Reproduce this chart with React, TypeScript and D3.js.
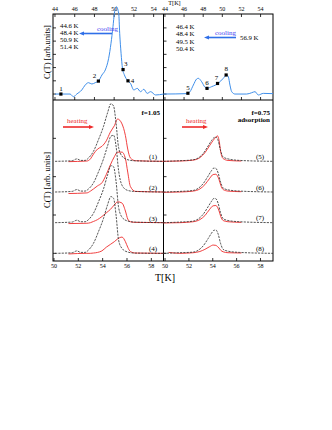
import React from "react";
import * as d3 from "d3";

const FONT = "'Liberation Serif','Times New Roman',Times,serif";

// ---------- data: top panels (cooling) ----------
const topTicks = [44, 46, 48, 50, 52, 54];
const bottomTicks = [50, 52, 54, 56, 58];

const topLeftT = [44.0, 45.53, 45.87, 46.21, 46.72, 47.06, 47.4, 47.74, 48.08, 48.42, 48.76, 49.1, 49.44, 49.68, 49.88, 50.02, 50.22, 50.46, 50.56, 50.7, 50.84, 51.04, 51.38, 51.65, 51.99, 52.34, 52.67, 53.01, 53.35, 53.69, 54.2, 55.0];
const topLeftC = [0, 0, -0.2, 0, 0.31, 0.68, 0.86, 0.76, 0.86, 0.99, 1.44, 1.82, 2.7, 3.84, 5.09, 6.1, 6.6, 6.1, 4.59, 3.08, 1.95, 1.44, 1.01, 0.81, 0.31, 0.43, 0.18, 0.36, 0.05, 0.18, -0.07, 0];
const leftPointT = [44.6, 48.4, 50.9, 51.4];
const leftPointC = [0, 0.98, 1.85, 1.0];
const leftPointLabels = ["1", "2", "3", "4"];
const leftTempTexts = ["44.6 K", "48.4 K", "50.9 K", "51.4 K"];

const topRightT = [43.85, 46.28, 46.62, 46.97, 47.32, 47.49, 47.84, 48.19, 48.37, 48.89, 49.58, 50.1, 50.46, 50.63, 50.8, 50.98, 51.33, 52.55, 53.07, 53.42, 53.76, 54.29, 55.3];
const topRightC = [0, 0.03, 0.18, 0.68, 1.14, 1.19, 0.93, 0.51, 0.43, 0.56, 0.81, 1.19, 1.44, 1.31, 0.68, 0.18, 0, 0, 0.1, 0.18, -0.07, 0.05, 0.03];
const rightPointT = [46.4, 48.4, 49.5, 50.4];
const rightPointC = [0.06, 0.43, 0.8, 1.44];
const rightPointLabels = ["5", "6", "7", "8"];
const rightTempTexts = ["46.4 K", "48.4 K", "49.5 K", "50.4 K"];

// ---------- data: bottom-left (f=1.05, heating) ----------
const blackLT = [50.09, 51.5, 51.88, 52.2, 52.56, 52.84, 53.25, 53.66, 54.07, 54.4, 54.68, 54.9, 55.1, 55.31, 55.59, 56.0, 56.55, 59.0];
const black1 = [0, 0.02, 0.08, 0.03, 0.03, 0.11, 0.33, 0.71, 1.14, 1.58, 1.88, 1.8, 1.25, 0.45, 0.17, 0.06, 0.02, 0];
const black2 = [0, 0.02, 0.08, 0.03, 0.03, 0.1, 0.3, 0.66, 1.08, 1.5, 1.82, 1.85, 1.5, 0.7, 0.22, 0.06, 0.02, 0];
const black3 = [0, 0.02, 0.08, 0.03, 0.03, 0.1, 0.31, 0.68, 1.1, 1.55, 1.86, 1.82, 1.35, 0.5, 0.18, 0.06, 0.02, 0];
const black4 = [0, 0.02, 0.08, 0.03, 0.03, 0.11, 0.33, 0.71, 1.14, 1.58, 1.85, 1.79, 1.25, 0.43, 0.16, 0.05, 0.01, 0];

const redLT = [51.19, 52.7, 53.0, 53.25, 53.58, 53.94, 54.3, 54.63, 54.96, 55.23, 55.59, 55.87, 56.06, 56.28, 56.69, 59.0];
const red1 = [-0.01, 0.01, 0.08, 0.24, 0.4, 0.49, 0.67, 0.95, 1.16, 1.38, 1.22, 0.84, 0.4, 0.11, 0.02, 0];
const red2 = [-0.05, -0.03, 0.03, 0.1, 0.2, 0.3, 0.57, 0.88, 1.15, 1.3, 1.3, 1.09, 0.65, 0.18, 0.02, 0];
const red3 = [-0.03, -0.02, 0.0, 0.04, 0.1, 0.2, 0.32, 0.43, 0.58, 0.68, 0.64, 0.38, 0.12, 0.03, 0.01, 0];
const red4 = [-0.02, 0.0, 0.0, 0.01, 0.03, 0.08, 0.2, 0.29, 0.38, 0.47, 0.53, 0.38, 0.2, 0.06, 0.01, 0];
const leftCurveLabels = ["(1)", "(2)", "(3)", "(4)"];
const stackOffsets = [3, 2, 1, 0];

// ---------- data: bottom-right (f=0.75 adsorption) ----------
const blackRT = [49.87, 51.25, 52.36, 52.78, 53.19, 53.61, 53.9, 54.09, 54.26, 54.45, 54.65, 54.87, 55.28, 56.26, 59.05];
const black5 = [0, 0.02, 0.05, 0.11, 0.25, 0.5, 0.68, 0.77, 0.79, 0.68, 0.36, 0.14, 0.08, 0.03, 0];
const black6 = [0, 0.02, 0.05, 0.12, 0.27, 0.52, 0.7, 0.78, 0.77, 0.62, 0.33, 0.13, 0.07, 0.03, 0];
const black7 = [0, 0.02, 0.05, 0.12, 0.27, 0.52, 0.7, 0.79, 0.78, 0.63, 0.33, 0.13, 0.07, 0.03, 0];
const black8 = [0, 0.02, 0.04, 0.1, 0.24, 0.48, 0.66, 0.75, 0.76, 0.63, 0.33, 0.13, 0.07, 0.03, 0];

const redRT = [49.87, 51.25, 52.36, 52.92, 53.34, 53.75, 54.03, 54.26, 54.4, 54.53, 54.67, 54.87, 55.28, 56.4];
const red8T = [50.3, 51.25, 52.36, 52.92, 53.34, 53.75, 54.03, 54.26, 54.4, 54.53, 54.67, 54.87, 55.28, 56.4];
const red5 = [0, 0.01, 0.04, 0.12, 0.28, 0.52, 0.68, 0.79, 0.83, 0.68, 0.3, 0.09, 0.03, 0.01];
const red6 = [-0.01, 0.0, 0.03, 0.1, 0.24, 0.45, 0.57, 0.58, 0.52, 0.4, 0.22, 0.08, 0.03, 0.01];
const red7 = [-0.01, 0.0, 0.03, 0.1, 0.23, 0.44, 0.55, 0.56, 0.5, 0.38, 0.2, 0.07, 0.03, 0.01];
const red8 = [0.03, 0.0, 0.02, 0.06, 0.13, 0.22, 0.27, 0.26, 0.22, 0.17, 0.1, 0.05, 0.02, 0.01];
const rightCurveLabels = ["(5)", "(6)", "(7)", "(8)"];

const topYTicks = [0, 1, 2, 3, 4, 5];
const bottomYTicks = [0, 1.25, 2.5, 3.75];

const BLUE = "#3f8fea";
const RED = "#ee2b2b";
const BLACK = "#2a2a2a";

export default function App() {
  const L = 53, M = 163.5, R = 273, TOP = 14, MID = 100, BOT = 261;
  const xTL = d3.scaleLinear().domain([43.8, 55.0]).range([L, M]);
  const xTR = d3.scaleLinear().domain([43.85, 55.3]).range([M, R]);
  const yT = d3.scaleLinear().domain([-0.45, 6.05]).range([MID, TOP]);
  const xBL = d3.scaleLinear().domain([49.92, 59.0]).range([L, M]);
  const xBR = d3.scaleLinear().domain([49.87, 59.05]).range([M, R]);
  const yB = d3.scaleLinear().domain([-0.25, 5]).range([BOT, MID]);

  const path = (xs: number[], ys: number[], x: any, y: any, off = 0) =>
    d3.line<number>()
      .x((_, i) => x(xs[i]))
      .y((d) => y(d + off))
      .curve(d3.curveMonotoneX)(ys) || "";

  const blackL = [black1, black2, black3, black4];
  const redL = [red1, red2, red3, red4];
  const blackR = [black5, black6, black7, black8];
  const redR = [red5, red6, red7, red8];

  const leftLabelOff = [[0, -3.5], [-4, -2.7], [2.6, -3.8], [4.5, 1.8]];
  const rightLabelOff = [[0, -3], [0, -3.3], [-1, -3.8], [0, -3.5]];

  const txt = { fontFamily: FONT, fill: "#000" } as const;

  const arrowHead = (x: number, y: number, dir: number) =>
    `M${x},${y} L${x - dir * 5},${y - 2} L${x - dir * 5},${y + 2} Z`;

  return (
    <svg width={332} height={430} style={{ position: "absolute", left: 0, top: 0, background: "#fff" }}>
      <rect x={0} y={0} width={332} height={430} fill="#fff" />

      {/* top T[K] label */}
      <text x={174.5} y={4.8} textAnchor="middle" fontSize={6.2} {...txt}>T[K]</text>

      {/* top tick labels */}
      {topTicks.map((t) => (
        <text key={"tl" + t} x={xTL(t)} y={10.8} textAnchor="middle" fontSize={6} {...txt}>{t}</text>
      ))}
      {topTicks.map((t) => (
        <text key={"tr" + t} x={xTR(t)} y={10.8} textAnchor="middle" fontSize={6} {...txt}>{t}</text>
      ))}

      {/* frames */}
      <g stroke="#000" strokeWidth={1} fill="none">
        <rect x={L} y={TOP} width={R - L} height={BOT - TOP} />
        <line x1={M} y1={TOP} x2={M} y2={BOT} />
        <line x1={L} y1={MID} x2={R} y2={MID} />
      </g>

      {/* ticks */}
      <g stroke="#000" strokeWidth={0.8}>
        {topTicks.map((t) => (
          <g key={"xt" + t}>
            <line x1={xTL(t)} x2={xTL(t)} y1={TOP} y2={TOP + 3} />
            <line x1={xTR(t)} x2={xTR(t)} y1={TOP} y2={TOP + 3} />
            <line x1={xTL(t)} x2={xTL(t)} y1={MID} y2={MID - 3} />
            <line x1={xTR(t)} x2={xTR(t)} y1={MID} y2={MID - 3} />
          </g>
        ))}
        {bottomTicks.map((t) => (
          <g key={"xb" + t}>
            <line x1={xBL(t)} x2={xBL(t)} y1={BOT} y2={BOT - 3} />
            <line x1={xBR(t)} x2={xBR(t)} y1={BOT} y2={BOT - 3} />
          </g>
        ))}
        {topYTicks.map((v) => (
          <g key={"yt" + v}>
            <line x1={L} x2={L + 3} y1={yT(v)} y2={yT(v)} />
            <line x1={M} x2={M + 3} y1={yT(v)} y2={yT(v)} />
          </g>
        ))}
        {bottomYTicks.map((v) => (
          <g key={"yb" + v}>
            <line x1={L} x2={L + 3} y1={yB(v)} y2={yB(v)} />
            <line x1={M} x2={M + 3} y1={yB(v)} y2={yB(v)} />
          </g>
        ))}
      </g>

      {/* bottom tick labels */}
      {bottomTicks.map((t) => (
        <text key={"bl" + t} x={xBL(t)} y={267.5} textAnchor="middle" fontSize={6} {...txt}>{t}</text>
      ))}
      {bottomTicks.map((t) => (
        <text key={"br" + t} x={xBR(t)} y={267.5} textAnchor="middle" fontSize={6} {...txt}>{t}</text>
      ))}
      <text x={165} y={281} textAnchor="middle" fontSize={10} {...txt}>T[K]</text>

      {/* y labels */}
      <text transform="translate(50,52) rotate(-90)" textAnchor="middle" fontSize={8.5} {...txt}>C(T) [arb.units]</text>
      <text transform="translate(50,180) rotate(-90)" textAnchor="middle" fontSize={8.5} {...txt}>C(T) [arb. units]</text>

      {/* top curves */}
      <path d={path(topLeftT, topLeftC, xTL, yT)} fill="none" stroke={BLUE} strokeWidth={1} />
      <path d={path(topRightT, topRightC, xTR, yT)} fill="none" stroke={BLUE} strokeWidth={1} />

      {leftPointT.map((t, i) => (
        <g key={"lp" + i}>
          <rect x={xTL(t) - 1.6} y={yT(leftPointC[i]) - 1.6} width={3.2} height={3.2} fill="#000" />
          <text x={xTL(t) + leftLabelOff[i][0]} y={yT(leftPointC[i]) + leftLabelOff[i][1]} textAnchor="middle" fontSize={7} {...txt}>{leftPointLabels[i]}</text>
        </g>
      ))}
      {rightPointT.map((t, i) => (
        <g key={"rp" + i}>
          <rect x={xTR(t) - 1.6} y={yT(rightPointC[i]) - 1.6} width={3.2} height={3.2} fill="#000" />
          <text x={xTR(t) + rightLabelOff[i][0]} y={yT(rightPointC[i]) + rightLabelOff[i][1]} textAnchor="middle" fontSize={7} {...txt}>{rightPointLabels[i]}</text>
        </g>
      ))}

      {leftTempTexts.map((s, i) => (
        <text key={"ltt" + i} x={60} y={27.5 + i * 7} fontSize={6.8} {...txt}>{s}</text>
      ))}
      {rightTempTexts.map((s, i) => (
        <text key={"rtt" + i} x={176} y={28.5 + i * 7.5} fontSize={6.8} {...txt}>{s}</text>
      ))}
      <text x={240} y={39.5} fontSize={6.8} {...txt}>56.9 K</text>

      {/* cooling arrows */}
      <text x={97} y={31} fontSize={7} fontFamily={FONT} fill="#3b3bf0">cooling</text>
      <line x1={112} y1={33.5} x2={84} y2={33.5} stroke="#2f6fe8" strokeWidth={1.6} />
      <path d={arrowHead(79, 33.5, -1)} fill="#2f6fe8" />
      <text x={215} y={35} fontSize={7} fontFamily={FONT} fill="#3b3bf0">cooling</text>
      <line x1={236} y1={37.5} x2={209} y2={37.5} stroke="#2f6fe8" strokeWidth={1.6} />
      <path d={arrowHead(204, 37.5, -1)} fill="#2f6fe8" />

      {/* bottom-left curves */}
      {redL.map((r, i) => (
        <path key={"rl" + i} d={path(redLT, r, xBL, yB, stackOffsets[i])} fill="none" stroke={RED} strokeWidth={0.9} />
      ))}
      {blackL.map((b, i) => (
        <path key={"bl" + i} d={path(blackLT, b, xBL, yB, stackOffsets[i])} fill="none" stroke={BLACK} strokeWidth={0.8} strokeDasharray="2.2,1.1" />
      ))}
      {leftCurveLabels.map((s, i) => (
        <text key={"lcl" + i} x={153} y={yB(stackOffsets[i]) - 2} textAnchor="middle" fontSize={7} {...txt}>{s}</text>
      ))}

      {/* bottom-right curves */}
      {redR.map((r, i) => (
        <path key={"rr" + i} d={path(i === 3 ? red8T : redRT, r, xBR, yB, stackOffsets[i])} fill="none" stroke={RED} strokeWidth={0.9} />
      ))}
      {blackR.map((b, i) => (
        <path key={"br" + i} d={path(blackRT, b, xBR, yB, stackOffsets[i])} fill="none" stroke={BLACK} strokeWidth={0.8} strokeDasharray="2.2,1.1" />
      ))}
      {rightCurveLabels.map((s, i) => (
        <text key={"rcl" + i} x={260} y={yB(stackOffsets[i]) - 2.5} textAnchor="middle" fontSize={7} {...txt}>{s}</text>
      ))}

      {/* annotations */}
      <text x={160} y={115} textAnchor="end" fontSize={7} fontWeight="bold" {...txt}>f=1.05</text>
      <text x={270} y={115} textAnchor="end" fontSize={7} fontWeight="bold" {...txt}>f=0.75</text>
      <text x={270} y={122} textAnchor="end" fontSize={7} fontWeight="bold" {...txt}>adsorption</text>

      <text x={67} y={123} fontSize={7} fontFamily={FONT} fill={RED}>heating</text>
      <line x1={63} y1={127} x2={89} y2={127} stroke={RED} strokeWidth={1.6} />
      <path d={arrowHead(94, 127, 1)} fill={RED} />
      <text x={186} y={123} fontSize={7} fontFamily={FONT} fill={RED}>heating</text>
      <line x1={182} y1={127} x2={203} y2={127} stroke={RED} strokeWidth={1.6} />
      <path d={arrowHead(208, 127, 1)} fill={RED} />
    </svg>
  );
}
